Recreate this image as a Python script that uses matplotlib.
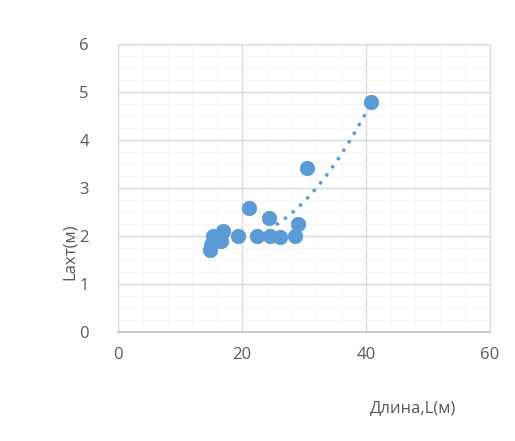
import numpy as np
import matplotlib
matplotlib.use("Agg")
import matplotlib.pyplot as plt
from matplotlib.ticker import MultipleLocator

plt.rcParams['font.family'] = ['Open Sans', 'DejaVu Sans']

# Length L (m) and Lахт (m)
length = [14.8, 15.0, 15.3, 15.6, 16.6, 16.9, 19.3, 21.1, 22.5, 24.4, 24.6, 26.1, 28.5, 29.1, 30.5, 40.8]
l_aht = [1.72, 1.82, 2.0, 1.95, 1.9, 2.1, 2.0, 2.58, 2.0, 2.38, 2.0, 1.99, 2.0, 2.25, 3.41, 4.8]

x_ticks = [0, 20, 40, 60]
y_ticks = [0, 1, 2, 3, 4, 5, 6]

blue = "#5b9bd5"
text_gray = "#595959"

fig = plt.figure(figsize=(5.15, 4.41), dpi=100)
ax = fig.add_axes([0.229, 0.247, 0.722, 0.653])

# polynomial trendline (order 2), drawn where it rises above the cluster
coef = np.polyfit(length, l_aht, 2)
xs = np.linspace(25.5, max(length), 200)
ax.plot(xs, np.polyval(coef, xs), linestyle=(0, (1, 2.0)), color=blue,
        linewidth=2.4, zorder=2)

ax.scatter(length, l_aht, s=110, color=blue, edgecolors=blue,
           linewidths=0.5, zorder=3)

ax.set_xlim(0, 60)
ax.set_ylim(0, 6)
ax.set_xticks(x_ticks)
ax.set_yticks(y_ticks)
ax.xaxis.set_minor_locator(MultipleLocator(4))
ax.yaxis.set_minor_locator(MultipleLocator(0.25))
ax.grid(which="major", color="#d9d9d9", linewidth=1.0, zorder=0)
ax.grid(which="minor", color="#f6f6f6", linewidth=0.7, zorder=0)
ax.set_axisbelow(True)

for side in ["top", "right", "left"]:
    ax.spines[side].set_color("#d9d9d9")
ax.spines["bottom"].set_color("#bfbfbf")
ax.spines["bottom"].set_linewidth(1.2)

ax.tick_params(which="both", length=0, labelsize=12, labelcolor=text_gray)
ax.tick_params(axis="x", pad=11)
ax.tick_params(axis="y", pad=21)

fig.text(0.136, 0.43, "Lахт(м)", rotation=90, ha="center", va="center",
         fontsize=12, color=text_gray)
fig.text(0.802, 0.075, "Длина,L(м)", ha="center", va="center",
         fontsize=12, color=text_gray)

fig.savefig("out.png", dpi=100, facecolor="white")
